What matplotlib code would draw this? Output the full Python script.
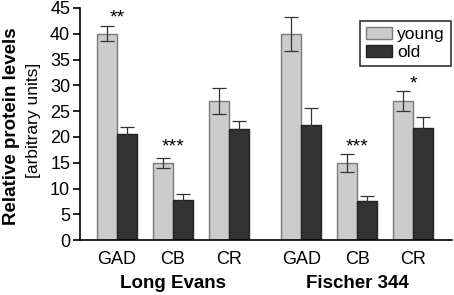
import matplotlib
matplotlib.use("Agg")
import matplotlib.pyplot as plt
import numpy as np

plt.rcParams['font.family'] = ['Liberation Sans', 'DejaVu Sans']

# data
markers = ["GAD", "CB", "CR", "GAD", "CB", "CR"]
strains = ["Long Evans", "Fischer 344"]
young = [40.0, 15.0, 27.0, 40.0, 15.0, 27.0]
young_err = [1.5, 1.0, 2.5, 3.3, 1.7, 2.0]
old = [20.5, 7.8, 21.5, 22.3, 7.6, 21.7]
old_err = [1.4, 1.2, 1.6, 3.3, 1.0, 2.2]
stars = ["**", "***", "", "", "***", "*"]
star_y = [43.0, 18.0, None, None, 18.0, 30.3]

pos = np.array([0, 1, 2, 3.3, 4.3, 5.3])
w = 0.357

fig = plt.figure(figsize=(4.54, 2.95), dpi=100)
ax = fig.add_axes([0.176, 0.186, 0.82, 0.787])

ax.bar(pos - w / 2, young, w, color="#cccccc", edgecolor="#7a7a7a", linewidth=1.0, label="young")
ax.bar(pos + w / 2, old, w, color="#333333", edgecolor="#222222", linewidth=1.0, label="old")
ax.errorbar(pos - w / 2, young, yerr=young_err, fmt="none", ecolor="#333333", elinewidth=0.9, capsize=5, capthick=0.9)
ax.errorbar(pos + w / 2, old, yerr=old_err, fmt="none", ecolor="#333333", elinewidth=0.9, capsize=5, capthick=0.9)

for p, s, yy in zip(pos, stars, star_y):
    if s:
        ax.text(p, yy, s, ha="center", va="center", fontsize=14)

ax.set_xlim(-0.66, 6.0)
ax.set_ylim(0, 45)
ax.set_yticks(range(0, 46, 5))
ax.set_xticks(pos)
ax.set_xticklabels(markers)
ax.tick_params(axis="x", length=0, labelsize=13, pad=8)
ax.tick_params(axis="y", length=5, width=1.2, labelsize=13, pad=2)
for side in ["top", "right"]:
    ax.spines[side].set_visible(False)
ax.spines["left"].set_linewidth(1.2)
ax.spines["bottom"].set_linewidth(1.2)

for i, name in enumerate(strains):
    cx = pos[i * 3 + 1]
    ax.text(cx, -0.185, name, transform=ax.get_xaxis_transform(), ha="center", va="center",
            fontsize=13.5, fontweight="bold")

fig.text(0.025, 0.573, "Relative protein levels", rotation=90, ha="center", va="center",
         fontsize=13.5, fontweight="bold")
fig.text(0.073, 0.593, "[arbitrary units]", rotation=90, ha="center", va="center", fontsize=12.5)

leg = ax.legend(loc="upper right", bbox_to_anchor=(0.997, 0.943), fontsize=12.5, frameon=True,
                fancybox=False, edgecolor="black", handlelength=1.5, handleheight=0.7,
                borderpad=0.35, labelspacing=0.15, handletextpad=0.3, borderaxespad=0)
leg.get_frame().set_linewidth(1.2)

fig.savefig("out.png", dpi=100)
